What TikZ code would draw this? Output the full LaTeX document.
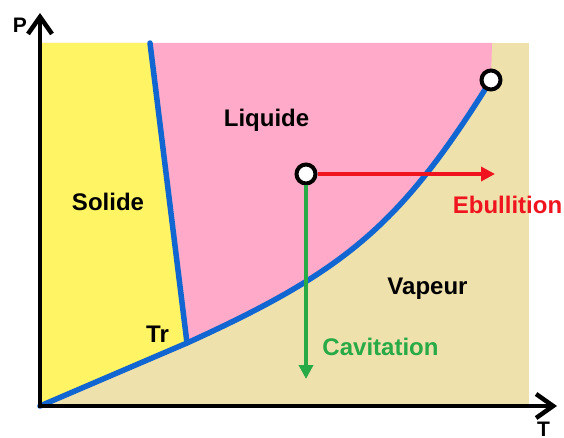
\documentclass[tikz,border=0pt]{standalone}
\usepackage{fontspec}
\setmainfont{Liberation Sans}
\usetikzlibrary{arrows.meta}
\definecolor{SolYellow}{RGB}{255,245,100}
\definecolor{LiqPink}{RGB}{255,170,200}
\definecolor{VapBeige}{RGB}{238,225,172}
\definecolor{CurveBlue}{RGB}{18,102,210}
\definecolor{EbRed}{RGB}{240,20,30}
\definecolor{CavGreen}{RGB}{40,170,70}
\begin{document}
\begin{tikzpicture}[x=1pt,y=-1pt,font=\fontsize{24}{28}\selectfont\bfseries,
  phase/.style={anchor=base},
  pt/.style={circle,draw=black,fill=white,line width=4pt,minimum size=19pt,inner sep=0pt},
  axis/.style={line width=4.5pt,-{Straight Barb[length=17pt,width=24pt]}},
  satcurve/.style={CurveBlue,line width=5.5pt,line join=round,line cap=round},
  move/.style={line width=3.5pt,-{Triangle[length=14pt,width=14pt]}}]
\useasboundingbox (0,0) rectangle (564,438);
\coordinate (O) at (40,406);
\coordinate (tr) at (187,343);
\coordinate (crit) at (491,80);
\coordinate (fus) at (150,43);
\fill[VapBeige] (40,43) rectangle (529,406);
\fill[LiqPink] (40,43) -- (492,43) -- (crit) .. controls (400,226) and (345,271) .. (tr) -- (O) -- cycle;
\fill[SolYellow] (40,43) -- (fus) -- (tr) -- (O) -- cycle;
\draw[satcurve] (O) -- (tr) .. controls (345,271) and (400,226) .. (crit);
\draw[satcurve] (fus) -- (tr);
\draw[axis] ([yshift=2pt]O) -- (40,13);
\draw[axis] ([xshift=-2pt]O) -- (557,406);
\node[pt] (cp) at (crit) {};
\node[pt] (st) at (306,174) {};
\coordinate (ebul) at (495,174);
\coordinate (cav) at (306,379);
\draw[move,EbRed] (st) -- (ebul);
\draw[move,CavGreen] (st) -- (cav);
\node[phase] (liq) at (266.5,127) {Liquide};
\node[phase] (sol) at (108,211) {Solide};
\node[phase] (vap) at (427.5,294) {Vapeur};
\node[phase] (trl) at (157.5,342) {Tr};
\node[phase,EbRed] (ebl) at (507.5,214) {Ebullition};
\node[phase,CavGreen] (cavl) at (380.5,355) {Cavitation};
\node[phase,font=\fontsize{21}{24}\selectfont\bfseries] (plab) at (20,33) {P};
\node[phase,font=\fontsize{21}{24}\selectfont\bfseries] (tlab) at (543.5,436) {T};
\end{tikzpicture}
\end{document}
